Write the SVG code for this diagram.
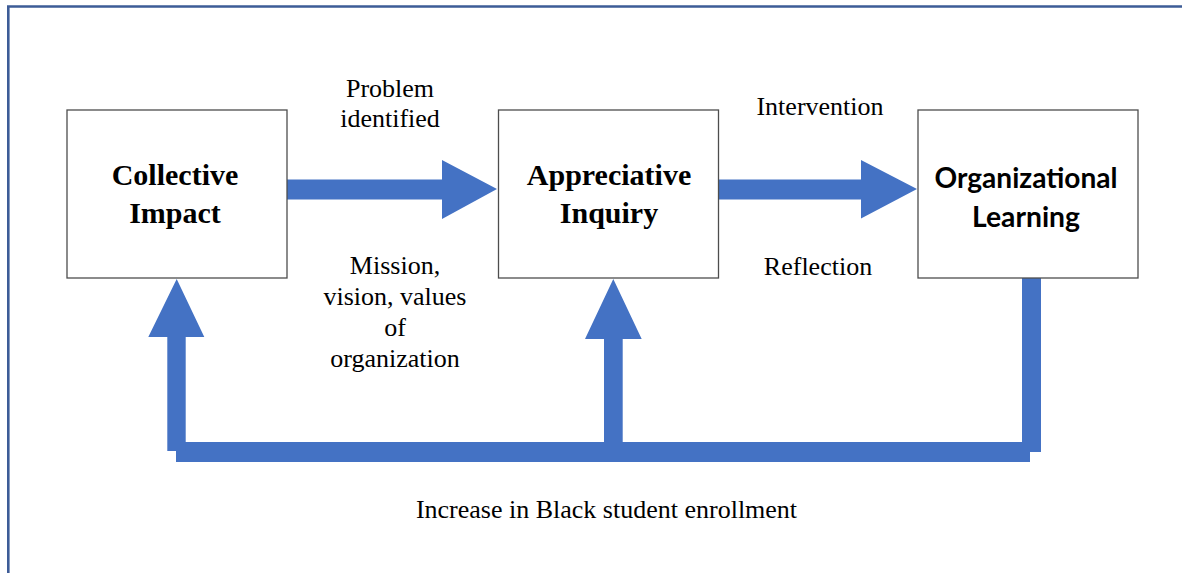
<svg xmlns="http://www.w3.org/2000/svg" width="1182" height="573" viewBox="0 0 1182 573">
  <style>
    .box { fill: #ffffff; stroke: #4d4d4d; stroke-width: 1.3; }
    .flow { fill: #4472c4; }
    .title { font-family: "Liberation Serif", "Times New Roman", serif; font-weight: bold; font-size: 30px; fill: #000; text-anchor: middle; }
    .title-sans { font-family: Lato, "Liberation Sans", sans-serif; font-weight: bold; font-size: 29px; fill: #000; text-anchor: middle; }
    .label { font-family: "Liberation Serif", "Times New Roman", serif; font-size: 26px; fill: #000; text-anchor: middle; }
  </style>

  <rect x="0" y="0" width="1182" height="573" fill="#ffffff"/>
  <!-- frame -->
  <path d="M8.3 600 V6.5 H1200" fill="none" stroke="#3d5c97" stroke-width="2.6"/>

  <!-- connectors -->
  <g id="connectors">
    <!-- Collective Impact to Appreciative Inquiry -->
    <polygon class="flow" points="287,179.5 442,179.5 442,160 497,189 442,219 442,199.5 287,199.5"/>
    <!-- Appreciative Inquiry to Organizational Learning -->
    <polygon class="flow" points="719,179.5 861,179.5 861,160 917,189 861,218.5 861,199.5 719,199.5"/>
    <!-- feedback loop -->
    <rect class="flow" x="1022" y="278" width="19" height="174"/>
    <rect class="flow" x="176" y="442" width="854" height="20"/>
    <polygon class="flow" points="167.3,451 167.3,337 148.3,337 176.7,279 204.3,337 185.7,337 185.7,451"/>
    <polygon class="flow" points="604,442 604,339 585,339 613.3,279 641.7,339 622.7,339 622.7,442"/>
  </g>

  <g id="node-collective-impact">
    <rect class="box" x="67" y="110" width="220" height="168"/>
    <text class="title" x="175" y="185">Collective</text>
    <text class="title" x="175" y="223">Impact</text>
  </g>

  <g id="node-appreciative-inquiry">
    <rect class="box" x="498.5" y="110" width="220" height="168"/>
    <text class="title" x="609" y="185">Appreciative</text>
    <text class="title" x="609" y="223">Inquiry</text>
  </g>

  <g id="node-organizational-learning">
    <rect class="box" x="918" y="110" width="220" height="168"/>
    <text class="title-sans" x="1026" y="188" textLength="183" lengthAdjust="spacingAndGlyphs">Organizational</text>
    <text class="title-sans" x="1026" y="226.5" textLength="108" lengthAdjust="spacingAndGlyphs">Learning</text>
  </g>

  <g id="labels">
    <text class="label" x="390" y="97">Problem</text>
    <text class="label" x="390" y="127">identified</text>
    <text class="label" x="395" y="274">Mission,</text>
    <text class="label" x="395" y="305">vision, values</text>
    <text class="label" x="395" y="336">of</text>
    <text class="label" x="395" y="367">organization</text>
    <text class="label" x="820" y="115">Intervention</text>
    <text class="label" x="818" y="275">Reflection</text>
    <text class="label" x="606.5" y="517.5">Increase in Black student enrollment</text>
  </g>
</svg>
